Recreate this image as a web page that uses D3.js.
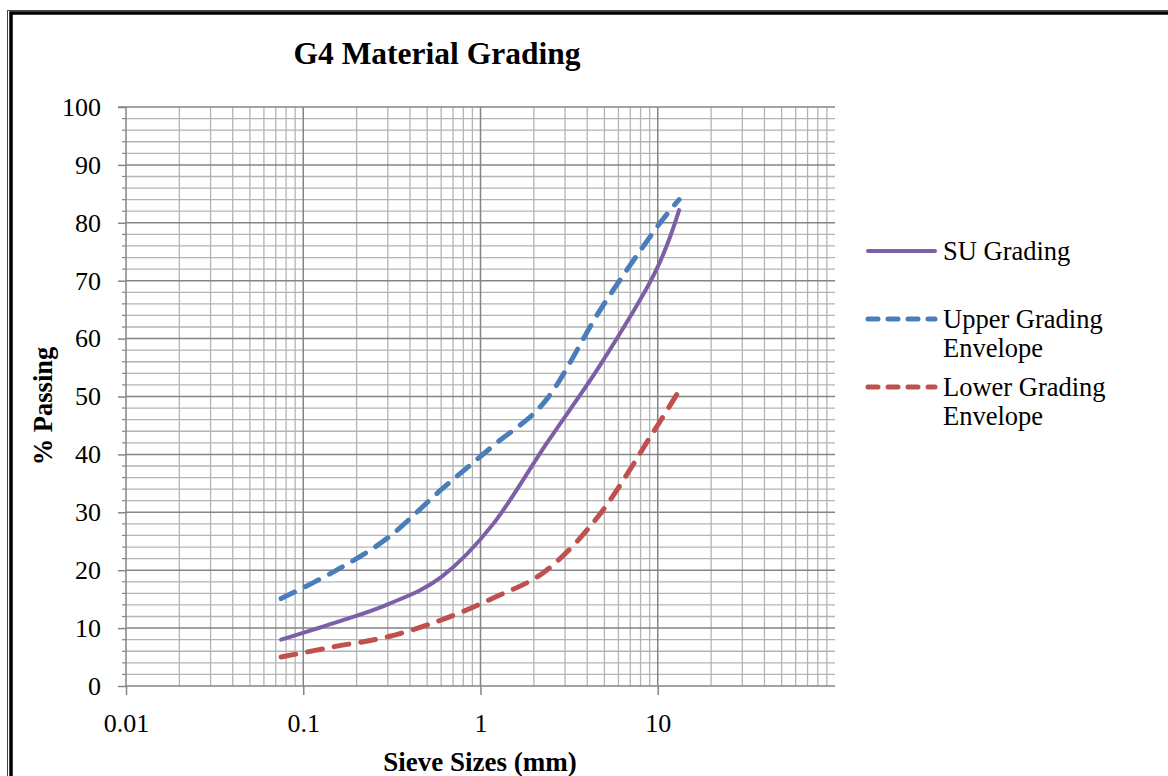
<!DOCTYPE html>
<html>
<head>
<meta charset="utf-8">
<script src="https://cdn.jsdelivr.net/npm/d3@7"></script>
<style>
  html, body { margin: 0; padding: 0; background: #fff; }
  svg { display: block; }
  text { font-family: "Liberation Serif", "Times New Roman", serif; fill: #000; }
</style>
</head>
<body>
<svg id="chart" width="1168" height="776"></svg>
<script>
// Sieve sizes (mm) and percentage passing for each grading curve
const sieveSizes = [0.075, 0.15, 0.3, 0.6, 1.18, 2.36, 4.75, 9.5, 13.2];
const suGrading     = [8.0, 10.9, 14.1, 18.8, 28.0, 41.9, 55.5, 71.0, 82.2];
const upperEnvelope = [15.1, 19.8, 25.6, 33.9, 41.5, 49.5, 65.0, 78.5, 84.0];
const lowerEnvelope = [5.0, 6.8, 8.5, 11.4, 15.2, 20.0, 29.8, 44.0, 51.0];

const xTickValues = [0.01, 0.1, 1, 10];
const xTickLabels = ["0.01", "0.1", "1", "10"];
const yTickValues = [0, 10, 20, 30, 40, 50, 60, 70, 80, 90, 100];

const seriesNames = ["SU Grading", "Upper Grading Envelope", "Lower Grading Envelope"];

const svg = d3.select("#chart");

// outer frame
svg.append("rect").attr("x", 7.5).attr("y", 10.5).attr("width", 1200).attr("height", 800)
  .attr("fill", "none").attr("stroke", "#444").attr("stroke-width", 1);
svg.append("rect").attr("x", 11).attr("y", 13).attr("width", 1200).attr("height", 800)
  .attr("fill", "none").attr("stroke", "#000").attr("stroke-width", 3.5);

const x = d3.scaleLog().domain([0.01, 100]).range([126, 835]);
const y = d3.scaleLinear().domain([0, 100]).range([686, 107]);

const minorGrid = "#b4b4b4", majorGrid = "#858585";
const g = svg.append("g");

// horizontal gridlines: minor every 2, major every 10
const hMinor = d3.range(2, 100, 2).filter(v => v % 10 !== 0);
g.selectAll(".hmin").data(hMinor).join("line")
  .attr("x1", x(0.01)).attr("x2", x(100))
  .attr("y1", d => y(d)).attr("y2", d => y(d))
  .attr("stroke", minorGrid).attr("stroke-width", 1.3);

// vertical minor gridlines at 2..9 of each decade
const vMinor = [];
[0.01, 0.1, 1, 10].forEach(dec => { for (let k = 2; k <= 9; k++) vMinor.push(dec * k); });
g.selectAll(".vmin").data(vMinor).join("line")
  .attr("x1", d => x(d)).attr("x2", d => x(d))
  .attr("y1", y(0)).attr("y2", y(100))
  .attr("stroke", minorGrid).attr("stroke-width", 1.3);

// major gridlines
g.selectAll(".hmaj").data(yTickValues.filter(v => v > 0)).join("line")
  .attr("x1", x(0.01)).attr("x2", x(100))
  .attr("y1", d => y(d)).attr("y2", d => y(d))
  .attr("stroke", majorGrid).attr("stroke-width", 1.5);
g.selectAll(".vmaj").data([0.1, 1, 10]).join("line")
  .attr("x1", d => x(d)).attr("x2", d => x(d))
  .attr("y1", y(0)).attr("y2", y(100))
  .attr("stroke", majorGrid).attr("stroke-width", 1.5);

// y axis
const yAxis = d3.axisLeft(y).tickValues(yTickValues).tickSize(8).tickPadding(17).tickFormat(d3.format("d"));
const yg = svg.append("g").attr("transform", `translate(${x(0.01)},0)`).call(yAxis);
yg.select(".domain").attr("stroke", majorGrid).attr("stroke-width", 1.5).attr("d", `M-8,${y(100)}H0V${y(0)}`);
yg.selectAll(".tick line").attr("stroke", majorGrid).attr("stroke-width", 1.5);
yg.selectAll(".tick text").attr("font-size", 26).attr("font-family", "Liberation Serif").attr("fill", "#000");
// y minor ticks
yg.selectAll(".ymt").data(hMinor).join("line")
  .attr("x1", -4).attr("x2", 0).attr("y1", d => y(d)).attr("y2", d => y(d))
  .attr("stroke", majorGrid).attr("stroke-width", 1.2);

// x axis
const xAxis = d3.axisBottom(x).tickValues(xTickValues).tickSize(9).tickPadding(19)
  .tickFormat((d, i) => xTickLabels[i]);
const xg = svg.append("g").attr("transform", `translate(0,${y(0)})`).call(xAxis);
xg.select(".domain").attr("stroke", majorGrid).attr("stroke-width", 1.5).attr("d", `M${x(0.01)},0H${x(100)}`);
xg.selectAll(".tick line").attr("stroke", majorGrid).attr("stroke-width", 1.5);
xg.selectAll(".tick text").attr("font-size", 26).attr("font-family", "Liberation Serif").attr("fill", "#000");

// curves
const line = d3.line().x(d => x(d[0])).y(d => y(d[1])).curve(d3.curveCardinal.tension(0));
const series = [
  { name: seriesNames[0], values: suGrading,     color: "#7d5fa5", dash: null,    width: 4 },
  { name: seriesNames[1], values: upperEnvelope, color: "#4a7ebb", dash: "15 12", width: 5 },
  { name: seriesNames[2], values: lowerEnvelope, color: "#c0504d", dash: "15 12", width: 5 }
];
series.forEach(s => {
  svg.append("path")
    .datum(sieveSizes.map((v, i) => [v, s.values[i]]))
    .attr("d", line)
    .attr("fill", "none")
    .attr("stroke", s.color)
    .attr("stroke-width", s.width)
    .attr("stroke-linecap", "round")
    .attr("stroke-linejoin", "round")
    .attr("stroke-dasharray", s.dash);
});

// title
svg.append("text").attr("x", 437).attr("y", 64).attr("text-anchor", "middle")
  .attr("font-size", 31.5).attr("font-weight", "bold").text("G4 Material Grading");

// axis titles
svg.append("text").attr("x", 480).attr("y", 771).attr("text-anchor", "middle")
  .attr("font-size", 27).attr("font-weight", "bold").text("Sieve Sizes (mm)");
svg.append("text").attr("transform", "translate(52,406) rotate(-90)").attr("text-anchor", "middle")
  .attr("font-size", 26.5).attr("font-weight", "bold").text("% Passing");

// legend
const legend = [
  { s: series[0], y: 251, lines: ["SU Grading"] },
  { s: series[1], y: 319, lines: ["Upper Grading", "Envelope"] },
  { s: series[2], y: 387, lines: ["Lower Grading", "Envelope"] }
];
legend.forEach(l => {
  svg.append("line").attr("x1", 868).attr("x2", 935).attr("y1", l.y).attr("y2", l.y)
    .attr("stroke", l.s.color).attr("stroke-width", l.s.width)
    .attr("stroke-linecap", "round")
    .attr("stroke-dasharray", l.s.dash ? "10 10" : null);
  const t = svg.append("text").attr("x", 943).attr("y", l.y + 8.5).attr("font-size", 26.5);
  l.lines.forEach((txt, i) => {
    t.append("tspan").attr("x", 943).attr("dy", i === 0 ? 0 : 29.5).text(txt);
  });
});
</script>
</body>
</html>
